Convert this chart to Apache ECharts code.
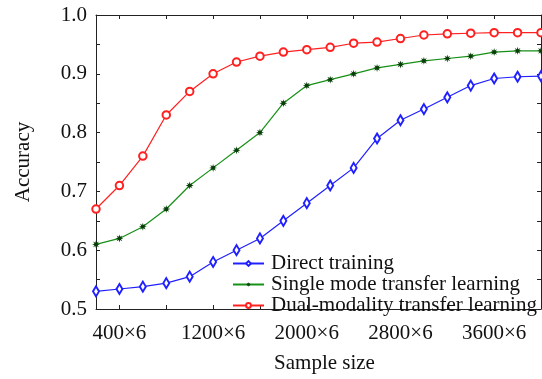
<!DOCTYPE html>
<html>
<head>
<meta charset="utf-8">
<script src="https://cdn.jsdelivr.net/npm/echarts@6/dist/echarts.min.js"></script>
<style>
html,body{margin:0;padding:0;background:#fff;}
#chart{width:542px;height:379px;}
</style>
</head>
<body>
<div id="chart"></div>
<script>
var categories = ['200×6','400×6','600×6','800×6','1000×6','1200×6','1400×6','1600×6','1800×6','2000×6',
  '2200×6','2400×6','2600×6','2800×6','3000×6','3200×6','3400×6','3600×6','3800×6','4000×6'];
var directTraining = [0.530,0.534,0.538,0.544,0.555,0.580,0.600,0.620,0.650,0.680,
  0.710,0.740,0.790,0.821,0.840,0.860,0.880,0.892,0.895,0.896];
var singleMode = [0.610,0.620,0.640,0.670,0.710,0.740,0.770,0.800,0.850,0.880,
  0.890,0.900,0.910,0.916,0.922,0.926,0.930,0.937,0.939,0.939];
var dualModality = [0.670,0.710,0.760,0.830,0.870,0.900,0.920,0.930,0.937,0.941,
  0.945,0.952,0.954,0.960,0.966,0.968,0.969,0.970,0.970,0.970];
var seriesNames = ['Direct training','Single mode transfer learning','Dual-modality transfer learning'];

var FONT = "'Liberation Serif', 'Times New Roman', serif";
var starPath = 'path://M10 0 L4 1.7 L7.07 7.07 L1.7 4 L0 10 L-1.7 4 L-7.07 7.07 L-4 1.7 L-10 0 L-4 -1.7 L-7.07 -7.07 L-1.7 -4 L0 -10 L1.7 -4 L7.07 -7.07 L4 -1.7 Z';

var axisLineStyle = {color:'#222', width:1};
function xAxisCfg(pos, showLabels){
  return {
    type:'category', data:categories, position:pos, boundaryGap:false,
    axisLine:{show:true, onZero:false, lineStyle:axisLineStyle},
    axisTick:{show:true, inside:true, length:4, lineStyle:axisLineStyle,
      interval:function(i){return i % 2 === 1;}},
    axisLabel:{show:showLabels, interval:function(i){return i % 4 === 1;},
      color:'#111', fontFamily:FONT, fontSize:21, margin:14},
    splitLine:{show:false},
    name: showLabels ? 'Sample size' : '',
    nameLocation:'middle', nameGap:44,
    nameTextStyle:{color:'#111', fontFamily:FONT, fontSize:21, padding:[0,0,0,12]}
  };
}
function yAxisCfg(pos, showLabels){
  return {
    type:'value', position:pos, min:0.5, max:1.0, interval:0.1,
    axisLine:{show:true, onZero:false, lineStyle:axisLineStyle},
    axisTick:{show:true, inside:true, length:4, lineStyle:axisLineStyle},
    minorTick:{show:true, splitNumber:2, length:4, lineStyle:axisLineStyle},
    axisLabel:{show:showLabels, color:'#111', fontFamily:FONT, fontSize:21, margin:9,
      formatter:function(v){return v.toFixed(1);}},
    splitLine:{show:false},
    name: showLabels ? 'Accuracy' : '',
    nameLocation:'middle', nameGap:62,
    nameTextStyle:{color:'#111', fontFamily:FONT, fontSize:21}
  };
}

var chart = echarts.init(document.getElementById('chart'), null, {renderer:'canvas'});
chart.setOption({
  animation:false,
  backgroundColor:'#fff',
  grid:{left:96, right:1, top:15, bottom:66, containLabel:false},
  xAxis:[xAxisCfg('bottom', true), xAxisCfg('top', false)],
  yAxis:[yAxisCfg('left', true), yAxisCfg('right', false)],
  legend:{
    orient:'vertical', left:232, top:253, padding:0, itemGap:0,
    itemWidth:31, itemHeight:6,
    textStyle:{color:'#111', fontFamily:FONT, fontSize:21, lineHeight:18.5, padding:[0,0,0,2]},
    data:seriesNames
  },
  series:[
    {name:seriesNames[0], type:'line', data:directTraining, symbol:'emptyDiamond', symbolSize:[6,10],
      lineStyle:{color:'#2020ff', width:1.2}, itemStyle:{color:'#2020ff', borderWidth:1}, z:3},
    {name:seriesNames[1], type:'line', data:singleMode, symbol:starPath, symbolSize:8,
      lineStyle:{color:'#169016', width:1.2}, itemStyle:{color:'#063f06'}, z:4},
    {name:seriesNames[2], type:'line', data:dualModality, symbol:'emptyCircle', symbolSize:7.5,
      lineStyle:{color:'#ff2020', width:1.2}, itemStyle:{color:'#ff2020', borderWidth:1}, z:5}
  ]
});
</script>
</body>
</html>
